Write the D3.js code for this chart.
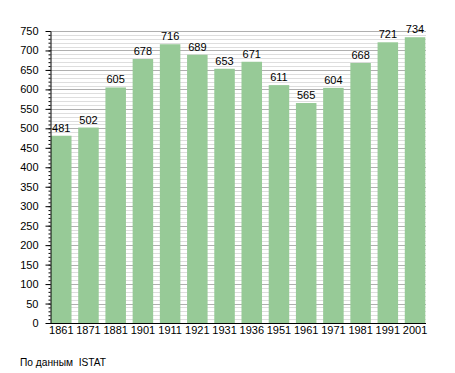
<!DOCTYPE html>
<html lang="ru">
  <head>
    <meta charset="UTF-8" />
    <title>Население</title>
    <script src="https://d3js.org/d3.v7.min.js"></script>
    <style>
      body { margin: 0; background: #fff; }
      text { font-family: "Liberation Sans", Arial, sans-serif; font-size: 11px; fill: #000; }
    </style>
  </head>
  <body>
    <svg id="chart" width="455" height="373"></svg>
    <script>
      // data
      var years = ["1861", "1871", "1881", "1901", "1911", "1921", "1931", "1936", "1951", "1961", "1971", "1981", "1991", "2001"];
      var population = [481, 502, 605, 678, 716, 689, 653, 671, 611, 565, 604, 668, 721, 734];
      var yTicks = [0, 50, 100, 150, 200, 250, 300, 350, 400, 450, 500, 550, 600, 650, 700, 750];
      var source = "По данным  ISTAT";

      var svg = d3.select("#chart");
      var plotLeft = 50, plotRight = 426, plotTop = 31, plotBottom = 323;

      var x = d3.scaleBand()
        .domain(years)
        .range([51, 425.3])
        .paddingInner(0.246)
        .paddingOuter(0);

      var y = d3.scaleLinear().domain([0, 750]).range([plotBottom, plotTop]);

      // minor grid every 10, major every 50
      var minor = d3.range(10, 751, 10).filter(function (v) { return v % 50 !== 0; });
      svg.append("g").selectAll("line")
        .data(minor).enter().append("line")
        .attr("x1", plotLeft).attr("x2", plotRight)
        .attr("y1", function (d) { return Math.round(y(d)) + 0.5; })
        .attr("y2", function (d) { return Math.round(y(d)) + 0.5; })
        .attr("stroke", "#dedede");
      svg.append("g").selectAll("line")
        .data(yTicks.slice(1)).enter().append("line")
        .attr("x1", plotLeft).attr("x2", plotRight)
        .attr("y1", function (d) { return Math.round(y(d)) + 0.5; })
        .attr("y2", function (d) { return Math.round(y(d)) + 0.5; })
        .attr("stroke", "#b0b0b0");

      // bars
      svg.append("g").selectAll("rect")
        .data(population).enter().append("rect")
        .attr("x", function (d, i) { return x(years[i]); })
        .attr("width", x.bandwidth())
        .attr("y", function (d) { return y(d); })
        .attr("height", function (d) { return plotBottom - y(d); })
        .attr("fill", "#97ca97");

      // value labels
      svg.append("g").selectAll("text")
        .data(population).enter().append("text")
        .attr("x", function (d, i) { return x(years[i]) + x.bandwidth() / 2; })
        .attr("y", function (d) { return y(d) - 4; })
        .attr("text-anchor", "middle")
        .text(function (d) { return d; });

      // y axis with minor ticks
      svg.append("g")
        .attr("transform", "translate(" + (plotLeft + 0.5) + ",0)")
        .call(d3.axisLeft(y).tickValues(d3.range(0, 751, 10)).tickSize(2).tickFormat(""))
        .call(function (g) { g.select(".domain").remove(); g.selectAll("line").attr("stroke", "#000"); });
      svg.append("g")
        .attr("transform", "translate(" + (plotLeft + 0.5) + ",0)")
        .call(d3.axisLeft(y).tickValues(yTicks).tickSize(5).tickPadding(7).tickSizeOuter(0))
        .call(function (g) {
          g.select(".domain").attr("stroke", "#000");
          g.selectAll("line").attr("stroke", "#000");
          g.selectAll("text").style("font-family", "Liberation Sans, Arial, sans-serif").attr("font-size", 11).attr("fill", "#000");
        });

      // x axis
      svg.append("g")
        .attr("transform", "translate(0," + (plotBottom + 0.5) + ")")
        .call(d3.axisBottom(x).tickSize(0).tickPadding(3).tickSizeOuter(0))
        .call(function (g) {
          g.select(".domain").attr("d", "M" + plotLeft + ",0H" + plotRight).attr("stroke", "#000");
          g.selectAll("text").style("font-family", "Liberation Sans, Arial, sans-serif").attr("font-size", 11).attr("fill", "#000");
        });

      // source note
      svg.append("text")
        .attr("x", 20)
        .attr("y", 366)
        .style("white-space", "pre")
        .style("font-size", "10.2px")
        .text(source);
    </script>
  </body>
</html>
